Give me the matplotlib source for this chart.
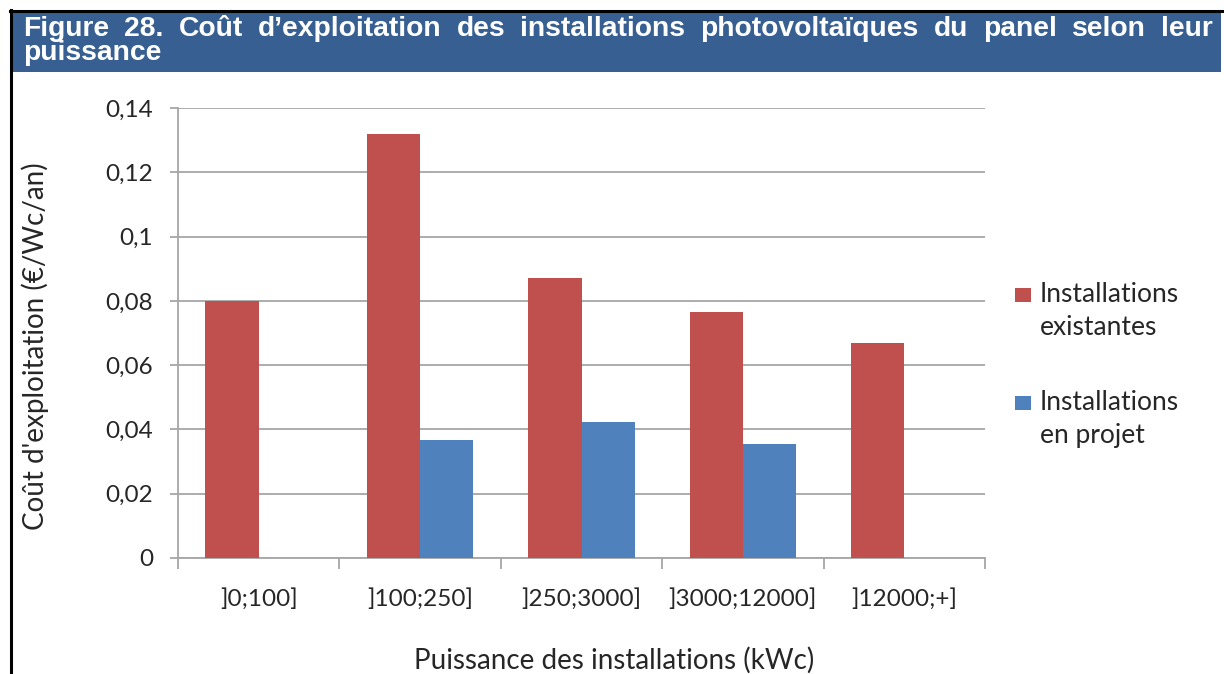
import matplotlib
matplotlib.use("Agg")
from matplotlib import pyplot as plt
from matplotlib.patches import Rectangle
from matplotlib.lines import Line2D
import numpy as np

# -----------------------------------------------
# DATA
categories = [']0;100]', ']100;250]', ']250;3000]', ']3000;12000]', ']12000;+]']
existantes = [0.080, 0.132, 0.087, 0.0765, 0.067]
en_projet = [np.nan, 0.0367, 0.0423, 0.0355, np.nan]
series_labels = [['Installations', 'existantes'], ['Installations', 'en projet']]
y_ticks = [0, 0.02, 0.04, 0.06, 0.08, 0.1, 0.12, 0.14]
y_ticklabels = ['0', '0,02', '0,04', '0,06', '0,08', '0,1', '0,12', '0,14']
title_line1 = "Figure 28. Coût d’exploitation des installations photovoltaïques du panel selon leur"
title_line2 = "puissance"
xlabel = 'Puissance des installations (kWc)'
ylabel = "Coût d'exploitation (€/Wc/an)"

# -----------------------------------------------
# STYLE
W, H = 1224, 674
red = '#C0504D'
blue = '#4F81BD'
header = '#375F91'
grid_col = '#A6A6A6'
txt_col = '#262626'
body_font = ['Lato', 'DejaVu Sans']

fig = plt.figure(figsize=(W / 100, H / 100), dpi=100)

def fx(px):
  return px / W

def fy(py):
  return 1 - py / H

# frame: black top line, left line and blue header band
fig.patches.append(Rectangle((fx(10), fy(72)), fx(1221) - fx(10), fy(12) - fy(72),
                             transform=fig.transFigure, facecolor=header, edgecolor='none'))
fig.lines.append(Line2D([fx(10), 1], [fy(11), fy(11)], transform=fig.transFigure,
                        color='black', lw=2.2))
fig.lines.append(Line2D([fx(11), fx(11)], [fy(10), 0], transform=fig.transFigure,
                        color='black', lw=2.2))

# -----------------------------------------------
# BARS
ax = fig.add_axes([fx(178), fy(558), fx(985) - fx(178), fy(108) - fy(558)])
x = np.arange(len(categories))
w = 0.33
ax.bar(x - w / 2, existantes, w, color=red, zorder=3)
ax.bar(x + w / 2, en_projet, w, color=blue, zorder=3)

ax.set_xlim(-0.5, len(categories) - 0.5)
ax.set_ylim(0, 0.14)
ax.set_yticks(y_ticks)
ax.set_yticklabels(y_ticklabels, family=body_font, fontsize=17.5, color=txt_col)
ax.set_xticks(x)
ax.set_xticklabels(categories, family=body_font, fontsize=17.5, color=txt_col)
ax.tick_params(axis='x', length=0, pad=22)
ax.set_xticks(np.arange(len(categories) + 1) - 0.5, minor=True)
ax.tick_params(axis='x', which='minor', length=8, width=1.3, color=grid_col, direction='out')
ax.tick_params(axis='y', length=6, width=1.3, color=grid_col, pad=12)
ax.yaxis.grid(True, color=grid_col, lw=1.3, zorder=0)
for s in ['top', 'right']:
  ax.spines[s].set_visible(False)
for s in ['left', 'bottom']:
  ax.spines[s].set_color(grid_col)
  ax.spines[s].set_linewidth(1.3)

fig.text(fx(614), fy(660), xlabel, ha='center', va='center', family=body_font,
         fontsize=20, color=txt_col)
fig.text(fx(35), fy(346), ylabel, ha='center', va='center', rotation=90,
         family=body_font, fontsize=20, color=txt_col)

# legend: swatch next to the first line of each label
for i, (col, lines) in enumerate(zip([red, blue], series_labels)):
  base = 302 + i * 108
  fig.patches.append(Rectangle((fx(1015), fy(base)), fx(16), fy(0) - fy(14),
                               transform=fig.transFigure, facecolor=col, edgecolor='none'))
  for k, ln in enumerate(lines):
    fig.text(fx(1040), fy(base + k * 33), ln, va='baseline', ha='left',
             family=body_font, fontsize=19, color=txt_col)

# -----------------------------------------------
# TITLE (justified first line)
title_kw = dict(family=['Liberation Sans', 'DejaVu Sans'], fontweight='bold',
                fontsize=17, color='white', va='baseline')
words = title_line1.split(' ')
renderer = fig.canvas.get_renderer()
items = [fig.text(0, fy(36), wd, **title_kw) for wd in words]
left, right = 23, 1213
total = sum(t.get_window_extent(renderer).width for t in items)
size = 17 * (right - left - 15 * (len(words) - 1)) / total
for t in items:
  t.set_fontsize(size)
widths = [t.get_window_extent(renderer).width for t in items]
gap = (right - left - sum(widths)) / (len(words) - 1)
pos = left
for t, wd in zip(items, widths):
  t.set_x(fx(pos))
  pos += wd + gap
title_kw['fontsize'] = size
fig.text(fx(left), fy(60), title_line2, **title_kw)

fig.savefig('out.png', dpi=100)
